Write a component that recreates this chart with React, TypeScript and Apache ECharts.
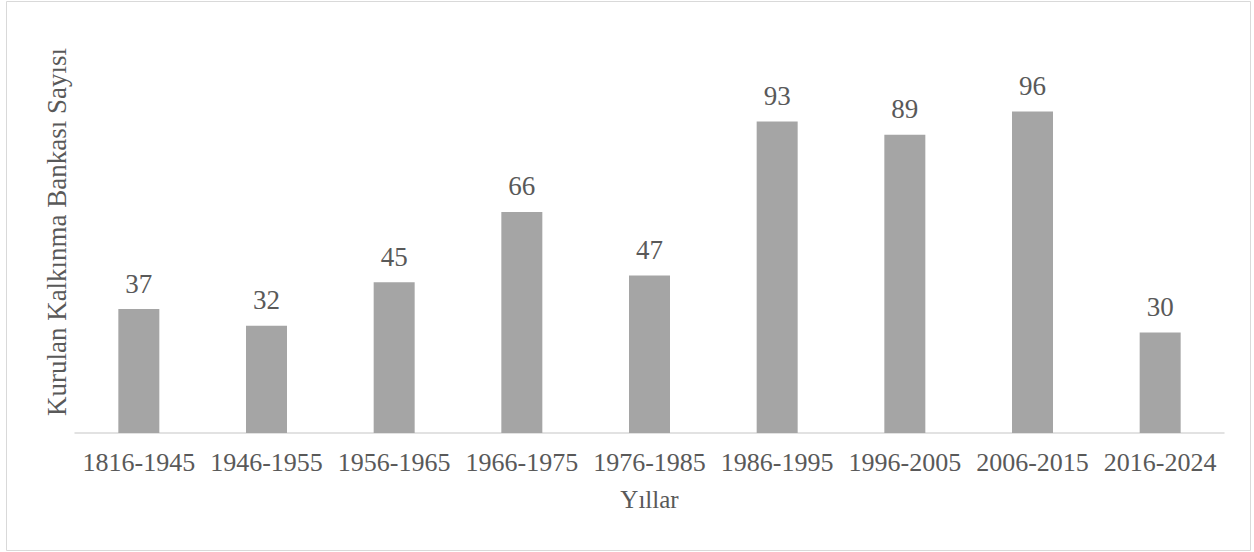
import React, { useEffect, useRef } from "react";
import * as echarts from "echarts";

const categories = ["1816-1945", "1946-1955", "1956-1965", "1966-1975", "1976-1985", "1986-1995", "1996-2005", "2006-2015", "2016-2024"];
const values = [37, 32, 45, 66, 47, 93, 89, 96, 30];
const xName = "Yıllar";
const yName = "Kurulan Kalkınma Bankası Sayısı";

const FONT = "Liberation Serif";
const TEXT = "#595959";

export default function App() {
  const ref = useRef<HTMLDivElement>(null);
  useEffect(() => {
    const chart = echarts.init(ref.current!, null, { renderer: "svg" });
    chart.setOption({
      animation: false,
      textStyle: { fontFamily: FONT },
      graphic: [
        {
          type: "rect",
          shape: { x: 6.5, y: 1.5, width: 1244, height: 549 },
          style: { fill: "none", stroke: "#D9D9D9", lineWidth: 1 },
          silent: true,
        },
      ],
      grid: { left: 75, right: 30, top: 31, bottom: 119 },
      xAxis: {
        type: "category",
        data: categories,
        name: xName,
        nameLocation: "middle",
        nameGap: 54,
        nameTextStyle: { fontFamily: FONT, fontSize: 25, color: TEXT },
        axisLine: { lineStyle: { color: "#D9D9D9", width: 1.5 } },
        axisTick: { show: false },
        axisLabel: { interval: 0, fontFamily: FONT, fontSize: 26, color: TEXT, margin: 16 },
      },
      yAxis: {
        type: "value",
        min: 0,
        max: 120,
        interval: 20,
        name: yName,
        nameLocation: "middle",
        nameGap: 5,
        nameTextStyle: { fontFamily: FONT, fontSize: 27, color: TEXT },
        axisLine: { show: false },
        axisTick: { show: false },
        axisLabel: { show: false },
        splitLine: { show: false },
      },
      series: [
        {
          type: "bar",
          data: values,
          barWidth: 41,
          itemStyle: { color: "#A5A5A5" },
          label: {
            show: true,
            position: "top",
            distance: 12,
            fontFamily: FONT,
            fontSize: 27,
            color: TEXT,
          },
        },
      ],
    });
    return () => chart.dispose();
  }, []);
  return (
    <div
      ref={ref}
      style={{ position: "absolute", left: 0, top: 0, width: 1254, height: 552, background: "#fff" }}
    />
  );
}
